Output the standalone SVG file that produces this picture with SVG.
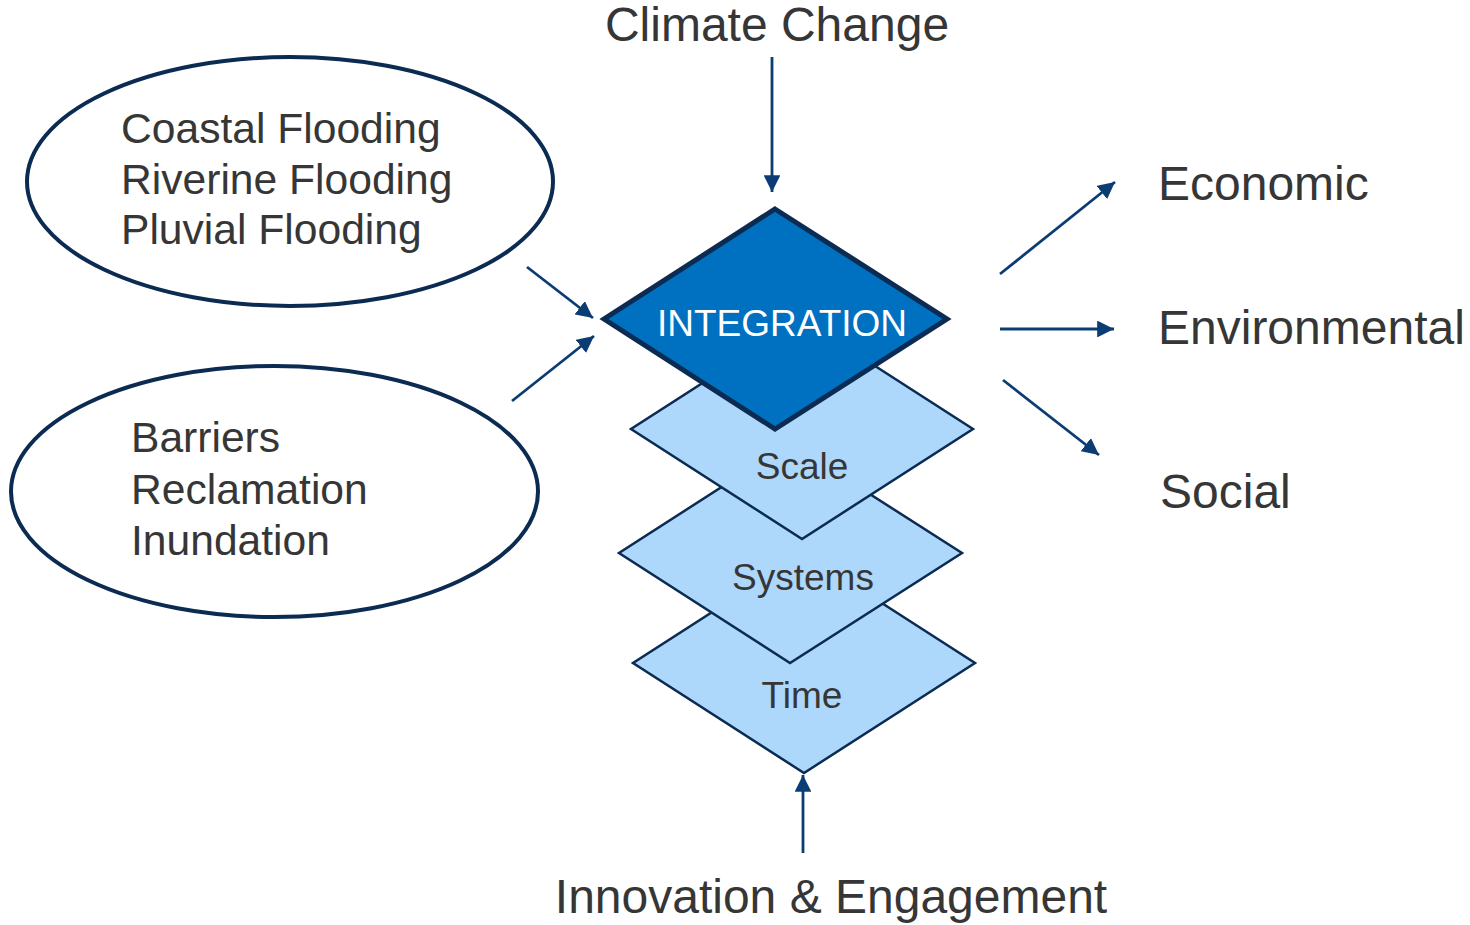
<svg xmlns="http://www.w3.org/2000/svg" width="1470" height="925" viewBox="0 0 1470 925">
<defs>
<style>
.t{font-family:"Liberation Sans",Arial,sans-serif;fill:#363636}
.big{font-size:48px}
.mid{font-size:42.6px}
.dtxt{font-size:37px;text-anchor:middle}
.ell{fill:#ffffff;stroke:#0b2b52;stroke-width:4}
.lt{fill:#aed7fc;stroke:#0b2b52;stroke-width:2.5;stroke-linejoin:miter}
.dk{fill:#0070c0;stroke:#0b2b52;stroke-width:5;stroke-linejoin:miter}
.con{stroke:#0b3c73;stroke-width:2.8;fill:none;marker-end:url(#ah)}
</style>
<marker id="ah" viewBox="0 0 10 10" refX="10" refY="5" markerWidth="6" markerHeight="6" orient="auto" markerUnits="strokeWidth">
<path d="M0,0 L10,5 L0,10 z" fill="#0b3c73"/>
</marker>
</defs>
<rect width="1470" height="925" fill="#ffffff"/>

<g id="hazards">
<ellipse class="ell" cx="290" cy="181.5" rx="263" ry="124.5"/>
<text class="t mid" x="121" y="143">Coastal Flooding</text>
<text class="t mid" x="121" y="193.5">Riverine Flooding</text>
<text class="t mid" x="121" y="244">Pluvial Flooding</text>
</g>

<g id="responses">
<ellipse class="ell" cx="274.5" cy="491.5" rx="263.5" ry="125.5"/>
<text class="t mid" x="131" y="452">Barriers</text>
<text class="t mid" x="131" y="504">Reclamation</text>
<text class="t mid" x="131" y="555">Inundation</text>
</g>

<g id="time">
<polygon class="lt" points="804,553 975,663 804,773 633,663"/>
<text class="t dtxt" x="802" y="708">Time</text>
</g>
<g id="systems">
<polygon class="lt" points="790,443 962,553 790,663 619,553"/>
<text class="t dtxt" x="803" y="590">Systems</text>
</g>
<g id="scale">
<polygon class="lt" points="802,319 973,429 802,539 631,429"/>
<text class="t dtxt" x="802" y="479">Scale</text>
</g>
<g id="integration">
<polygon class="dk" points="775,209 947,319 775,429 604,319"/>
<text x="782" y="336" style="font-family:'Liberation Sans',Arial,sans-serif;font-size:37px;fill:#ffffff;text-anchor:middle">INTEGRATION</text>
</g>

<g id="climate-change"><text class="t big" x="777" y="41" text-anchor="middle">Climate Change</text></g>
<g id="innovation"><text class="t big" x="831" y="913" text-anchor="middle">Innovation &amp; Engagement</text></g>
<g id="economic"><text class="t big" x="1158" y="200">Economic</text></g>
<g id="environmental"><text class="t big" x="1158" y="344">Environmental</text></g>
<g id="social"><text class="t big" x="1160" y="508">Social</text></g>

<g id="connectors">
<line class="con" x1="772" y1="57" x2="772" y2="192"/>
<line class="con" x1="803" y1="853" x2="803" y2="775"/>
<line class="con" x1="527" y1="267" x2="593" y2="318"/>
<line class="con" x1="512" y1="401" x2="594" y2="336"/>
<line class="con" x1="1000" y1="274" x2="1115" y2="182"/>
<line class="con" x1="1000" y1="329" x2="1114" y2="329"/>
<line class="con" x1="1003" y1="380" x2="1099" y2="455"/>
</g>
</svg>
